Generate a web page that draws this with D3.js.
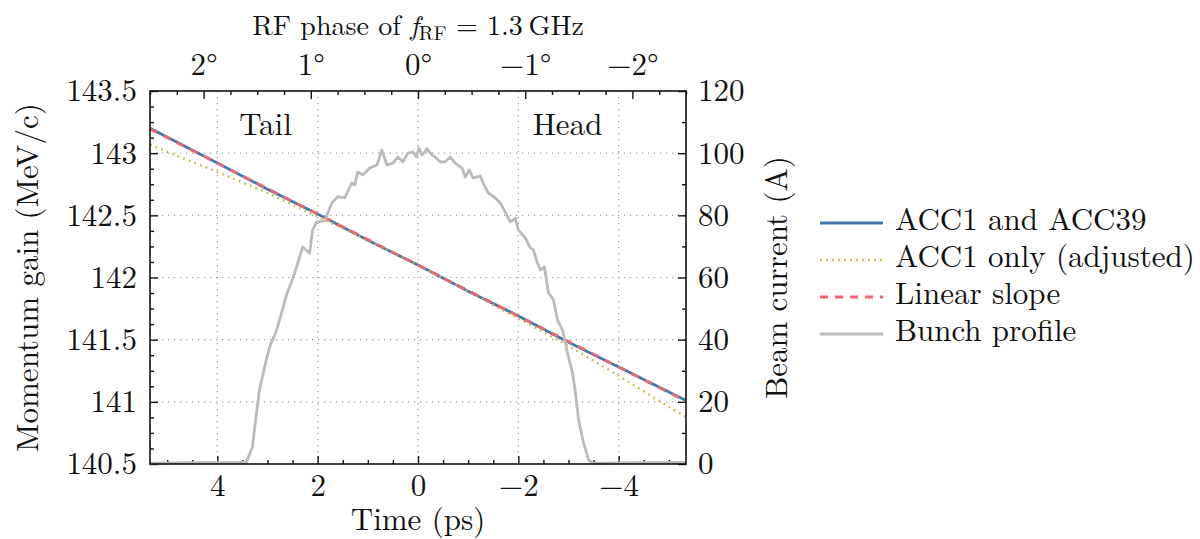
<!DOCTYPE html>
<html>
<head>
<meta charset="utf-8">
<script src="https://cdn.jsdelivr.net/npm/d3@7"></script>
<style>
  html, body { margin: 0; padding: 0; background: #fff; }
</style>
</head>
<body>
<svg id="chart" width="1200" height="539"></svg>
<script>
// ── Data ──────────────────────────────────────
const bothTime     = [5.342, 4, 3, 2, 1, 0, -1, -2, -3, -4, -5.342];
const bothValues   = [143.20, 142.92, 142.71, 142.51, 142.30, 142.10, 141.89, 141.69, 141.48, 141.28, 141.01];

const acc1Time     = [5.342, 5, 4, 3, 2, 1, 0, -1, -2, -3, -4, -5, -5.342];
const acc1Values   = [143.07, 143.01, 142.85, 142.68, 142.49, 142.30, 142.10, 141.89, 141.67, 141.45, 141.21, 140.96, 140.88];

const slopeTime    = [5.342, -5.342];
const slopeValues  = [143.195, 141.005];

const profileTime = [
  5.342, 4.5, 3.6, 3.42, 3.30, 3.22, 3.16, 3.06, 2.96, 2.82, 2.72, 2.62, 2.52, 2.42, 2.30,
  2.16, 2.10, 2.02, 1.86, 1.72, 1.60, 1.46, 1.32, 1.26, 1.20, 1.10, 0.96, 0.82, 0.72, 0.62,
  0.50, 0.40, 0.30, 0.20, 0.10, 0.03, -0.02, -0.08, -0.18, -0.28, -0.34, -0.44, -0.54, -0.64,
  -0.74, -0.88, -0.94, -1.02, -1.10, -1.24, -1.30, -1.40, -1.54, -1.64, -1.74, -1.84, -1.94,
  -2.00, -2.14, -2.24, -2.30, -2.38, -2.44, -2.52, -2.60, -2.70, -2.78, -2.88, -2.98, -3.08,
  -3.14, -3.20, -3.30, -3.40, -3.50, -4.5, -5.342
];
const profileCurrent = [
  0.3, 0.4, 0.4, 0.6, 5.5, 16.4, 23.8, 31.0, 37.6, 43.0, 48.6, 54.5, 58.6, 63.4, 69.8,
  67.8, 75.3, 77.9, 78.2, 84.0, 86.0, 85.6, 90.4, 89.8, 94.0, 93.0, 95.2, 96.2, 101.0, 96.2,
  96.8, 98.8, 97.2, 100.0, 100.4, 98.8, 101.7, 99.4, 101.4, 99.4, 98.8, 97.2, 97.2, 98.8,
  96.8, 95.2, 92.3, 94.6, 92.0, 92.7, 90.4, 87.2, 85.6, 84.0, 81.0, 77.9, 79.1,
  75.3, 72.7, 69.5, 68.9, 64.7, 62.4, 63.4, 55.0, 52.8, 46.3, 43.1, 35.7, 29.3,
  22.8, 14.2, 6.8, 1.3, 0.3, 0.4, 0.5
];

// ── Ticks ─────────────────────────────────────
const timeMajor   = [4, 2, 0, -2, -4];
const timeMinor   = d3.range(-5, 5.01, 0.5).filter(d => d % 2 !== 0);
const phaseMajor  = [2, 1, 0, -1, -2];
const phaseMinor  = d3.range(-2.5, 2.51, 0.25).filter(d => d % 1 !== 0);
const gainMajor   = [140.5, 141, 141.5, 142, 142.5, 143, 143.5];
const gainMinor   = d3.range(140.625, 143.5, 0.125).filter(d => (d * 2) % 1 !== 0);
const currMajor   = [0, 20, 40, 60, 80, 100, 120];
const currMinor   = [10, 30, 50, 70, 90, 110];

const legendNames = ["ACC1 and ACC39", "ACC1 only (adjusted)", "Linear slope", "Bunch profile"];

// ── Layout ────────────────────────────────────
const L = 150, R = 686, T = 91, B = 464;
const FS   = 31;
const FONT = '"Latin Modern Roman", "Liberation Serif", serif';
const INK  = "#111";

const svg = d3.select("#chart").attr("font-family", FONT);

const x      = d3.scaleLinear().domain([5.342, -5.342]).range([L, R]);
const xPhase = d3.scaleLinear().domain([2.5, -2.5]).range([L, R]);
const yGain  = d3.scaleLinear().domain([140.5, 143.5]).range([B, T]);
const yCurr  = d3.scaleLinear().domain([0, 120]).range([B, T]);

const COLORS = { blue: "#4477AA", yellow: "#CCBB44", red: "#EE6677", grey: "#BBBBBB" };

function label(sel) {
  return sel.attr("font-family", FONT).attr("font-size", FS).attr("fill", INK);
}

// ── Grid ──────────────────────────────────────
const grid = svg.append("g")
  .attr("stroke", "#9a9a9a")
  .attr("stroke-width", 1.2)
  .attr("stroke-dasharray", "1.2,4.8");

grid.selectAll(".gx")
  .data(timeMajor)
  .join("line")
  .attr("x1", d => x(d)).attr("x2", d => x(d))
  .attr("y1", T).attr("y2", B);

grid.selectAll(".gy")
  .data(gainMajor.slice(1, -1))
  .join("line")
  .attr("x1", L).attr("x2", R)
  .attr("y1", d => yGain(d)).attr("y2", d => yGain(d));

// ── Axes ──────────────────────────────────────
function axisLayer(gen, tx, ty, values, size, pad, fmt) {
  const g = svg.append("g")
    .attr("transform", `translate(${tx},${ty})`)
    .call(gen.tickValues(values).tickSize(-size).tickSizeOuter(0).tickPadding(pad).tickFormat(fmt || ""));
  g.select(".domain").remove();
  g.attr("font-family", FONT).attr("font-size", FS);
  g.selectAll(".tick line").attr("stroke", INK).attr("stroke-width", 1.4);
  g.selectAll(".tick text").attr("fill", INK);
  return g;
}

const numFmt = d3.format("");

axisLayer(d3.axisBottom(x), 0, B, timeMajor, 8, 10, numFmt);
axisLayer(d3.axisBottom(x), 0, B, timeMinor, 4, 0);
axisLayer(d3.axisTop(xPhase), 0, T, phaseMajor, 8, 16, d => numFmt(d) + "°");
axisLayer(d3.axisTop(xPhase), 0, T, phaseMinor, 4, 0);
axisLayer(d3.axisLeft(yGain), L, 0, gainMajor, 8, 13, numFmt);
axisLayer(d3.axisLeft(yGain), L, 0, gainMinor, 4, 0);
axisLayer(d3.axisRight(yCurr), R, 0, currMajor, 8, 12, numFmt);
axisLayer(d3.axisRight(yCurr), R, 0, currMinor, 4, 0);

// ── Series ────────────────────────────────────
function pathOf(xs, ys, yScale) {
  return d3.line().x(d => x(d[0])).y(d => yScale(d[1]))(d3.zip(xs, ys));
}

svg.append("path")
  .attr("d", pathOf(bothTime, bothValues, yGain))
  .attr("fill", "none").attr("stroke", COLORS.blue).attr("stroke-width", 2.8);

svg.append("path")
  .attr("d", pathOf(acc1Time, acc1Values, yGain))
  .attr("fill", "none").attr("stroke", COLORS.yellow).attr("stroke-width", 2.4)
  .attr("stroke-dasharray", "1.8,4.2");

svg.append("path")
  .attr("d", pathOf(slopeTime, slopeValues, yGain))
  .attr("fill", "none").attr("stroke", COLORS.red).attr("stroke-width", 2.8)
  .attr("stroke-dasharray", "8,7");

svg.append("path")
  .attr("d", pathOf(profileTime, profileCurrent, yCurr))
  .attr("fill", "none").attr("stroke", COLORS.grey).attr("stroke-width", 2.8)
  .attr("stroke-linejoin", "round");

// ── Frame ─────────────────────────────────────
svg.append("rect")
  .attr("x", L).attr("y", T)
  .attr("width", R - L).attr("height", B - T)
  .attr("fill", "none").attr("stroke", INK).attr("stroke-width", 1.6);

// ── Annotations ───────────────────────────────
label(svg.append("text")).attr("x", x(3.04)).attr("y", yGain(143.146))
  .attr("text-anchor", "middle").text("Tail");
label(svg.append("text")).attr("x", x(-2.98)).attr("y", yGain(143.146))
  .attr("text-anchor", "middle").text("Head");

// ── Axis titles ───────────────────────────────
label(svg.append("text"))
  .attr("transform", `translate(38,${(T + B) / 2}) rotate(-90)`)
  .attr("text-anchor", "middle")
  .text("Momentum gain (MeV/c)");

label(svg.append("text"))
  .attr("transform", `translate(787,${(T + B) / 2}) rotate(-90)`)
  .attr("text-anchor", "middle")
  .text("Beam current (A)");

label(svg.append("text"))
  .attr("x", (L + R) / 2).attr("y", 530)
  .attr("text-anchor", "middle")
  .text("Time (ps)");

const title = label(svg.append("text"))
  .attr("x", (L + R) / 2).attr("y", 35)
  .attr("font-size", 28)
  .attr("text-anchor", "middle");
title.append("tspan").text("RF phase of ");
title.append("tspan").attr("font-style", "italic").text("f");
title.append("tspan").attr("font-size", 20).attr("dy", 5).text("RF");
title.append("tspan").attr("dy", -5).text("\u2004=\u20041.3\u2009GHz");

// ── Legend ────────────────────────────────────
const legendStyles = [
  { color: COLORS.blue,   dash: null,      width: 2.8 },
  { color: COLORS.yellow, dash: "1.8,4.2", width: 2.4 },
  { color: COLORS.red,    dash: "8,7",     width: 2.8 },
  { color: COLORS.grey,   dash: null,      width: 2.8 }
];

const legend = svg.append("g");
legendNames.forEach((name, i) => {
  const cy = 223 + i * 37;
  const s  = legendStyles[i];
  legend.append("line")
    .attr("x1", 820).attr("x2", 883)
    .attr("y1", cy).attr("y2", cy)
    .attr("stroke", s.color).attr("stroke-width", s.width)
    .attr("stroke-dasharray", s.dash);
  label(legend.append("text"))
    .attr("x", 895).attr("y", cy + 7)
    .text(name);
});
</script>
</body>
</html>
